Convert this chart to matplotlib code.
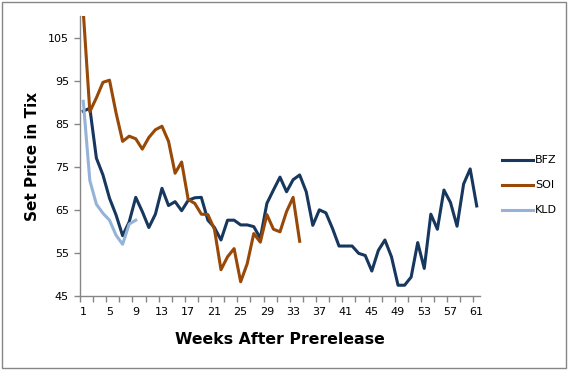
import matplotlib.pyplot as plt
import matplotlib.patches as mpatches
from matplotlib.ticker import FixedLocator

# weekly set prices (Tix)
bfz_weeks = list(range(1, 62))
bfz_price = [87.9, 88.6, 77.0, 73.1, 67.7, 63.8, 59.0, 62.2, 67.9, 64.6,
             60.9, 64.0, 70.0, 66.0, 66.9, 64.8, 67.2, 67.8, 67.9, 62.6,
             60.9, 58.0, 62.6, 62.6, 61.5, 61.5, 61.1, 58.4, 66.5, 69.6,
             72.6, 69.2, 72.0, 73.1, 69.2, 61.4, 65.0, 64.3, 60.7, 56.6,
             56.6, 56.6, 54.9, 54.4, 50.8, 55.6, 58.0, 54.1, 47.5, 47.5,
             49.4, 57.4, 51.4, 64.0, 60.5, 69.6, 66.7, 61.2, 71.0, 74.5,
             65.9]

soi_weeks = list(range(1, 35))
soi_price = [111.0, 87.8, 91.0, 94.6, 95.1, 87.5, 80.9, 82.1, 81.5, 79.1,
             81.8, 83.6, 84.4, 80.9, 73.5, 76.1, 67.4, 66.5, 64.0, 63.9,
             60.5, 51.1, 54.1, 56.0, 48.3, 52.5, 59.5, 57.5, 63.9, 60.5,
             59.9, 64.6, 67.9, 57.7]

kld_weeks = list(range(1, 10))
kld_price = [90.2, 71.8, 66.3, 64.2, 62.6, 59.1, 57.0, 61.7, 62.6]

y_ticks = [45, 55, 65, 75, 85, 95, 105]
x_labels = list(range(1, 62, 4))

axis_gray = '#868686'

fig = plt.figure(figsize=(5.70, 3.71), dpi=100)
ax = fig.add_axes([80 / 570, 1 - 296 / 371, 400 / 570, 280 / 371])

ax.plot(bfz_weeks, bfz_price, color='#17375E', lw=2.2, label='BFZ',
        solid_joinstyle='round')
ax.plot(soi_weeks, soi_price, color='#984807', lw=2.2, label='SOI',
        solid_joinstyle='round')
ax.plot(kld_weeks, kld_price, color='#95B3D7', lw=2.2, label='KLD',
        solid_joinstyle='round')

ax.set_xlim(0.5, 61.5)
ax.set_ylim(45, 110)

ax.set_yticks(y_ticks)
ax.set_xticks(x_labels)
ax.xaxis.set_minor_locator(FixedLocator([0.5 + 2 * k for k in range(31)]))
ax.tick_params(axis='x', which='major', length=0, pad=8, labelsize=8)
ax.tick_params(axis='x', which='minor', length=4, width=1, color=axis_gray)
ax.tick_params(axis='y', which='major', length=4, width=1, color=axis_gray,
               labelsize=8, pad=4)

for side in ['top', 'right']:
    ax.spines[side].set_visible(False)
for side in ['left', 'bottom']:
    ax.spines[side].set_color(axis_gray)
    ax.spines[side].set_linewidth(1)

ax.set_ylabel('Set Price in Tix', fontsize=11, fontweight='bold', labelpad=6)
ax.set_xlabel('Weeks After Prerelease', fontsize=11.3, fontweight='bold',
              labelpad=11)

ax.legend(loc='center left', bbox_to_anchor=(1.03, 0.395), frameon=False,
          fontsize=8, handlelength=2.8, handletextpad=0.2, labelspacing=1.35)

# chart area border
border = mpatches.Rectangle((2 / 570, 3 / 371), 564 / 570, 366 / 371,
                            transform=fig.transFigure, fill=False,
                            edgecolor=axis_gray, linewidth=1)
fig.patches.append(border)

fig.savefig('out.png', dpi=100)
